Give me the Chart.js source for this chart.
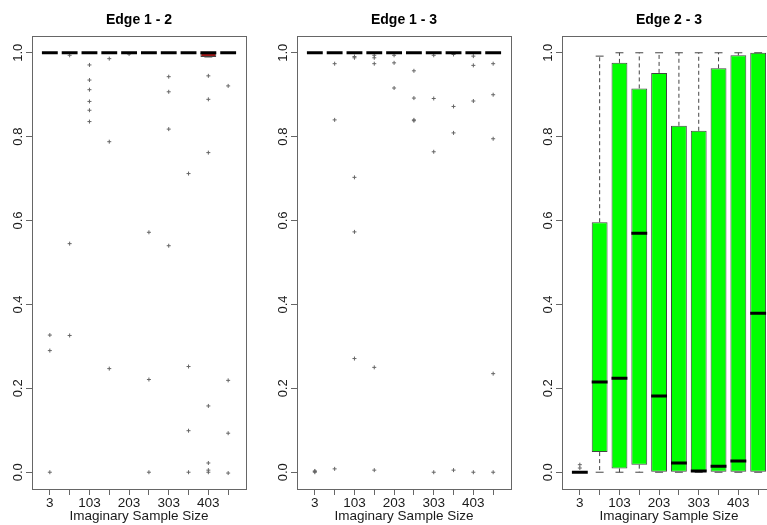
<!DOCTYPE html>
<html><head><meta charset="utf-8">
<script src="https://cdn.jsdelivr.net/npm/chart.js@4.4.1/dist/chart.umd.min.js"></script>
<style>
html,body{margin:0;padding:0;background:#fff;overflow:hidden;width:767px;height:525px;position:relative}
canvas{position:absolute;left:0;top:0}
</style></head><body>
<canvas id="c1" width="800" height="525"></canvas>
<canvas id="c2" width="800" height="525"></canvas>
<canvas id="c3" width="800" height="525"></canvas>
<script>
// ---------- data ----------
const sampleSizes = [3, 53, 103, 153, 203, 253, 303, 353, 403, 453];
const xTickLabels = ['3', '', '103', '', '203', '', '303', '', '403', ''];
const yTickValues = [0, 0.2, 0.4, 0.6, 0.8, 1.0];
const yTickLabels = ['0.0', '0.2', '0.4', '0.6', '0.8', '1.0'];
const panelTitles = ['Edge 1 - 2', 'Edge 1 - 3', 'Edge 2 - 3'];
const xAxisTitle = 'Imaginary Sample Size';

// Edge 1 - 2
const e12Q1  = [1, 1, 1, 1, 1, 1, 1, 1, 0.99, 1];
const e12Med = [1, 1, 1, 1, 1, 1, 1, 1, 1, 1];
const e12Q3  = [1, 1, 1, 1, 1, 1, 1, 1, 1, 1];
const e12Lo  = [1, 1, 1, 1, 1, 1, 1, 1, 0.99, 1];
const e12Hi  = [1, 1, 1, 1, 1, 1, 1, 1, 1, 1];
const e12Out = [
  [0.327, 0.290, 0.0],
  [0.994, 0.545, 0.326],
  [0.971, 0.935, 0.912, 0.884, 0.863, 0.836],
  [0.986, 0.788, 0.247],
  [0.997],
  [0.572, 0.221, 0.0],
  [0.943, 0.907, 0.818, 0.540],
  [0.712, 0.252, 0.099, 0.0],
  [0.945, 0.889, 0.762, 0.158, 0.022, 0.005, 0.0],
  [0.921, 0.219, 0.093, -0.002]
];

// Edge 1 - 3
const e13Q1  = [1, 1, 1, 1, 1, 1, 1, 1, 1, 1];
const e13Med = [1, 1, 1, 1, 1, 1, 1, 1, 1, 1];
const e13Q3  = [1, 1, 1, 1, 1, 1, 1, 1, 1, 1];
const e13Lo  = [1, 1, 1, 1, 1, 1, 1, 1, 1, 1];
const e13Hi  = [1, 1, 1, 1, 1, 1, 1, 1, 1, 1];
const e13Out = [
  [0.0, 0.002, 0.003],
  [0.974, 0.840, 0.008],
  [0.991, 0.988, 0.703, 0.573, 0.271],
  [0.994, 0.988, 0.974, 0.250, 0.005],
  [0.994, 0.976, 0.916],
  [0.957, 0.892, 0.840, 0.838],
  [0.994, 0.891, 0.764, 0.0],
  [0.996, 0.872, 0.809, 0.005],
  [0.992, 0.970, 0.885, 0.0],
  [0.974, 0.900, 0.795, 0.235, 0.0]
];

// Edge 2 - 3
const e23Q1  = [0, 0.048, 0.009, 0.018, 0, 0, 0, 0, 0, 0];
const e23Med = [0, 0.215, 0.224, 0.570, 0.182, 0.022, 0.003, 0.014, 0.027, 0.379];
const e23Q3  = [0, 0.596, 0.976, 0.915, 0.952, 0.826, 0.814, 0.963, 0.994, 1.0];
const e23Lo  = [0, 0, 0, 0, 0, 0, 0, 0, 0, 0];
const e23Hi  = [0, 0.992, 1, 1, 1, 1, 1, 1, 1, 1];
const e23Out = [[0.018, 0.010], [], [], [], [], [], [], [], [], []];

// ---------- drawing ----------
const FONT = 'Liberation Sans, Arial, Helvetica, sans-serif';
const frameColor = '#666666';
const textColor = '#1a1a1a';
const plotWidth = 214;
const plotTop = 36;
const plotBottom = 489;

const framePlugin = {
  id: 'frameAndYLabels',
  afterDraw(chart) {
    const { ctx, chartArea, scales } = chart;
    ctx.save();
    ctx.strokeStyle = frameColor;
    ctx.lineWidth = 1;
    ctx.strokeRect(Math.round(chartArea.left) + 0.5, Math.round(chartArea.top) + 0.5,
      Math.round(chartArea.right - chartArea.left), Math.round(chartArea.bottom - chartArea.top));
    ctx.fillStyle = textColor;
    ctx.font = '13px ' + FONT;
    ctx.textAlign = 'center';
    ctx.textBaseline = 'middle';
    yTickValues.forEach((v, i) => {
      const y = scales.y.getPixelForValue(v);
      ctx.save();
      ctx.translate(chartArea.left - 14, y);
      ctx.rotate(-Math.PI / 2);
      ctx.fillText(yTickLabels[i], 0, 0);
      ctx.restore();
    });
    ctx.restore();
  }
};

function makePanel(id, title, q1, med, q3, lo, hi, out, fill, plotLeft) {
  const idx = sampleSizes.map((_, i) => i + 1);
  const boxes = idx.map((x, i) => ({ x, y: [q1[i], q3[i]] }));
  const whiskers = [];
  const caps = [];
  const medians = [];
  const outliers = [];
  idx.forEach((x, i) => {
    if (hi[i] > q3[i]) whiskers.push({ x, y: q3[i] }, { x, y: hi[i] }, { x, y: null });
    if (lo[i] < q1[i]) whiskers.push({ x, y: q1[i] }, { x, y: lo[i] }, { x, y: null });
    caps.push({ x: x - 0.2, y: hi[i] }, { x: x + 0.2, y: hi[i] }, { x, y: null });
    caps.push({ x: x - 0.2, y: lo[i] }, { x: x + 0.2, y: lo[i] }, { x, y: null });
    medians.push({ x: x - 0.4, y: med[i] }, { x: x + 0.4, y: med[i] }, { x, y: null });
    out[i].forEach(v => outliers.push({ x, y: v }));
  });

  return new Chart(document.getElementById(id), {
    type: 'bar',
    data: {
      datasets: [
        { type: 'line', data: whiskers, borderColor: '#444', borderWidth: 1, borderDash: [4, 3],
          pointRadius: 0, fill: false, spanGaps: false, tension: 0, order: 4 },
        { type: 'line', data: caps, borderColor: '#444', borderWidth: 1,
          pointRadius: 0, fill: false, spanGaps: false, tension: 0, order: 3 },
        { type: 'bar', data: boxes, backgroundColor: fill, borderColor: '#444', borderWidth: 1,
          borderSkipped: false, categoryPercentage: 0.8, barPercentage: 1, order: 2 },
        { type: 'line', data: medians, borderColor: '#000', borderWidth: 3, borderCapStyle: 'butt',
          pointRadius: 0, fill: false, spanGaps: false, tension: 0, order: 0 },
        { type: 'scatter', data: outliers, pointStyle: 'cross', pointRadius: 2, borderColor: '#666',
          backgroundColor: '#666', borderWidth: 1, order: 1 }
      ]
    },
    options: {
      responsive: false,
      animation: false,
      events: [],
      layout: { padding: { left: 0, top: 0, bottom: 0, right: 800 - (plotLeft + plotWidth) } },
      plugins: {
        legend: { display: false },
        tooltip: { enabled: false },
        title: {
          display: true, text: title, fullSize: false, color: '#000',
          font: { family: FONT, size: 14, weight: 'bold', lineHeight: 1.2 },
          padding: { top: 12, bottom: plotTop - 12 - 16.8 }
        }
      },
      scales: {
        x: {
          type: 'linear', min: 0.1, max: 10.9, bounds: 'data', offset: false, position: 'bottom',
          afterBuildTicks: s => { s.ticks = idx.map(v => ({ value: v })); },
          afterFit: s => { s.height = 525 - plotBottom; },
          grid: { drawOnChartArea: false, drawTicks: true, tickLength: 6, color: frameColor, offset: false },
          border: { color: frameColor, width: 1 },
          ticks: { autoSkip: false, maxRotation: 0, minRotation: 0, padding: 0, color: textColor,
            font: { family: FONT, size: 13.5 }, callback: (v, i) => xTickLabels[i] },
          title: { display: true, text: xAxisTitle, color: textColor,
            font: { family: FONT, size: 13.5 }, padding: { top: 0, bottom: 1 } }
        },
        y: {
          type: 'linear', min: -0.04, max: 1.04, bounds: 'data', position: 'left',
          afterBuildTicks: s => { s.ticks = yTickValues.map(v => ({ value: v })); },
          afterFit: s => { s.width = plotLeft; },
          grid: { drawOnChartArea: false, drawTicks: true, tickLength: 6, color: frameColor },
          border: { color: frameColor, width: 1 },
          ticks: { display: false }
        }
      }
    },
    plugins: [framePlugin]
  });
}

makePanel('c1', panelTitles[0], e12Q1, e12Med, e12Q3, e12Lo, e12Hi, e12Out, '#a01a1a', 32);
makePanel('c2', panelTitles[1], e13Q1, e13Med, e13Q3, e13Lo, e13Hi, e13Out, '#a01a1a', 297);
makePanel('c3', panelTitles[2], e23Q1, e23Med, e23Q3, e23Lo, e23Hi, e23Out, '#00ff00', 562);
</script>
</body></html>
